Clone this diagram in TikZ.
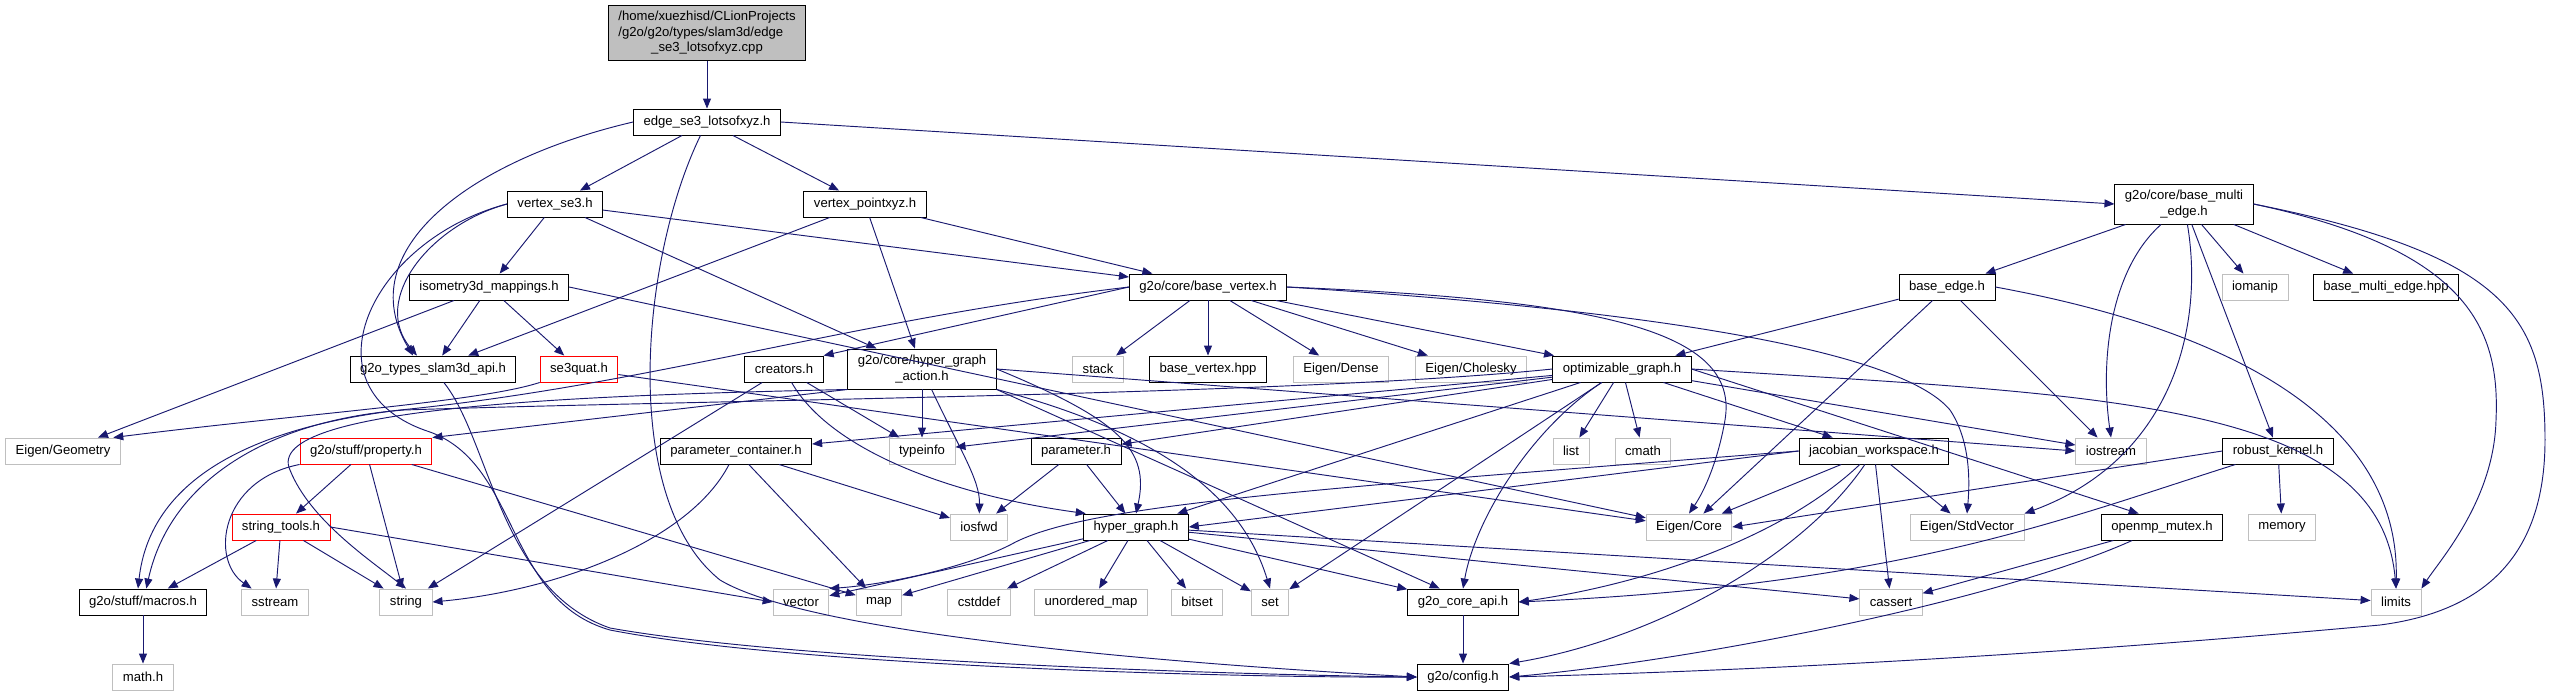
\documentclass[tikz,border=0pt]{standalone}
\usepackage{fontspec}
\setmainfont{Liberation Sans}
\usetikzlibrary{arrows.meta}
\definecolor{EdgeBlue}{RGB}{25,25,112}
\definecolor{SysGray}{RGB}{191,191,191}
\definecolor{RootFill}{RGB}{191,191,191}
\tikzset{
  file/.style={rectangle,draw,line width=0.8pt,fill=white,inner xsep=0.3cm,inner ysep=0.05cm,minimum height=0.78cm,align=center,font=\fontsize{11.2}{13.4}\selectfont},
  hdr/.style={file,draw=black},
  syshdr/.style={file,draw=SysGray},
  trunc/.style={file,draw=red},
  srcfile/.style={file,draw=black,fill=RootFill,minimum height=1.65cm},
  twoline/.style={minimum height=1.2cm},
  dep/.style={-{Triangle[length=0.3cm,width=0.24cm]},draw=EdgeBlue,line width=0.8pt}
}

\begin{document}
\begin{tikzpicture}[x=0.03cm,y=-0.03cm]
\fill[white] (0,0) rectangle (2553,693);
\useasboundingbox (0,0) rectangle (2553,693);
% rows from top to bottom
\node[srcfile] (root) at (707,33) {\begin{tabular}{@{}l@{}}/home/xuezhisd/CLionProjects\\/g2o/g2o/types/slam3d/edge\\\multicolumn{1}{@{}c@{}}{\_se3\_lotsofxyz.cpp}\end{tabular}};
\node[hdr] (edgeh) at (707,122) {edge\_se3\_lotsofxyz.h};
\node[hdr] (vse3) at (555,204) {vertex\_se3.h};
\node[hdr] (vpxyz) at (865,204) {vertex\_pointxyz.h};
\node[hdr,twoline] (bme) at (2184,204) {g2o/core/base\_multi\\\_edge.h};
\node[hdr] (iso) at (489,287) {isometry3d\_mappings.h};
\node[hdr] (bv) at (1208,287) {g2o/core/base\_vertex.h};
\node[hdr] (be) at (1947,287) {base\_edge.h};
\node[syshdr] (iomanip) at (2255,287) {iomanip};
\node[hdr] (bmehpp) at (2386,287) {base\_multi\_edge.hpp};
\node[hdr] (api3d) at (433,369) {g2o\_types\_slam3d\_api.h};
\node[trunc] (se3quat) at (579,369) {se3quat.h};
\node[hdr] (creators) at (784,369) {creators.h};
\node[hdr,twoline] (hga) at (922,369) {g2o/core/hyper\_graph\\\_action.h};
\node[syshdr] (stack) at (1098,369) {stack};
\node[hdr] (bvhpp) at (1208,369) {base\_vertex.hpp};
\node[syshdr] (dense) at (1341,369) {Eigen/Dense};
\node[syshdr] (chol) at (1471,369) {Eigen/Cholesky};
\node[hdr] (og) at (1622,369) {optimizable\_graph.h};
\node[syshdr] (geom) at (63,451) {Eigen/Geometry};
\node[trunc] (prop) at (366,451) {g2o/stuff/property.h};
\node[hdr] (pcont) at (736,451) {parameter\_container.h};
\node[syshdr] (typeinfo) at (922,451) {typeinfo};
\node[hdr] (param) at (1076,451) {parameter.h};
\node[syshdr] (list) at (1571,451) {list};
\node[syshdr] (cmath) at (1643,451) {cmath};
\node[hdr] (jac) at (1874,451) {jacobian\_workspace.h};
\node[syshdr] (iostream) at (2111,451) {iostream};
\node[hdr] (rk) at (2278,451) {robust\_kernel.h};
\node[trunc] (strtools) at (281,527) {string\_tools.h};
\node[syshdr] (iosfwd) at (979,527) {iosfwd};
\node[hdr] (hg) at (1136,527) {hyper\_graph.h};
\node[syshdr] (core) at (1689,527) {Eigen/Core};
\node[syshdr] (stdvec) at (1967,527) {Eigen/StdVector};
\node[hdr] (omp) at (2162,527) {openmp\_mutex.h};
\node[syshdr] (memory) at (2282,527) {memory};
\node[hdr] (macros) at (143,602) {g2o/stuff/macros.h};
\node[syshdr] (sstream) at (275,602) {sstream};
\node[syshdr] (string) at (406,602) {string};
\node[syshdr] (vector) at (801,602) {vector};
\node[syshdr] (map) at (879,602) {map};
\node[syshdr] (cstddef) at (979,602) {cstddef};
\node[syshdr] (umap) at (1091,602) {unordered\_map};
\node[syshdr] (bitset) at (1197,602) {bitset};
\node[syshdr] (set) at (1270,602) {set};
\node[hdr] (coreapi) at (1463,602) {g2o\_core\_api.h};
\node[syshdr] (cassert) at (1891,602) {cassert};
\node[syshdr] (limits) at (2396,602) {limits};
\node[syshdr] (math) at (143,677) {math.h};
\node[hdr] (config) at (1463,677) {g2o/config.h};

% includes
\draw[dep] (root) -- (edgeh);
\draw[dep] (edgeh) -- (vse3);
\draw[dep] (edgeh) -- (vpxyz);
\draw[dep] (edgeh.east) -- (bme.west);
\draw[dep] (edgeh.west) .. controls (470,160) and (350,250) .. (api3d.146);
\draw[dep] (edgeh) .. controls (640,260) and (620,500) .. (720,580) .. controls (820,640) and (1250,668) .. (config.west);

\draw[dep] (vse3) -- (iso);
\draw[dep] (vse3) -- (bv);
\draw[dep] (vse3) -- (hga);
\draw[dep] (vse3.west) .. controls (430,225) and (370,300) .. (api3d.140);
\draw[dep] (vse3.west) .. controls (370,240) and (300,390) .. (430,432) .. controls (520,465) and (505,600) .. (610,630) .. controls (800,667) and (1250,678) .. (config.west);

\draw[dep] (vpxyz) -- (api3d);
\draw[dep] (vpxyz) -- (hga);
\draw[dep] (vpxyz) -- (bv);

\draw[dep] (bme) -- (be);
\draw[dep] (bme) -- (iomanip);
\draw[dep] (bme) -- (bmehpp);
\draw[dep] (bme) -- (rk);
\draw[dep] (bme) .. controls (2110,270) and (2100,360) .. (iostream.north);
\draw[dep] (bme) .. controls (2205,330) and (2170,460) .. (stdvec.north east);
\draw[dep] (bme.east) .. controls (2470,250) and (2500,330) .. (2496,420) .. controls (2494,500) and (2440,560) .. (limits.north east);
\draw[dep] (bme.east) .. controls (2510,255) and (2545,320) .. (2545,440) .. controls (2545,560) and (2480,612) .. (2380,625) .. controls (2000,660) and (1700,672) .. (config.east);

\draw[dep] (iso) -- (api3d);
\draw[dep] (iso) -- (se3quat);
\draw[dep] (iso) -- (geom);
\draw[dep] (iso.east) -- (core);

\draw[dep] (se3quat) -- (core);
\draw[dep] (se3quat.south west) .. controls (480,402) and (300,414) .. (geom.15);

\draw[dep] (bv) -- (bvhpp);
\draw[dep] (bv) -- (stack);
\draw[dep] (bv) -- (dense);
\draw[dep] (bv) -- (chol);
\draw[dep] (bv) -- (og);
\draw[dep] (bv.west) -- (creators.north east);
\draw[dep] (bv.west) .. controls (850,320) and (650,385) .. (400,410) .. controls (250,428) and (150,480) .. ([xshift=-0.15cm]macros.north);
\draw[dep] (bv.east) .. controls (1600,300) and (1740,330) .. (1725,420) .. controls (1718,460) and (1705,490) .. (core.north);
\draw[dep] (bv.east) .. controls (1650,310) and (1900,350) .. (1950,410) .. controls (1970,440) and (1970,480) .. (stdvec.north);

\draw[dep] (be) -- (og);
\draw[dep] (be) -- (core);
\draw[dep] (be) -- (iostream);
\draw[dep] (be.east) .. controls (2230,330) and (2400,420) .. (limits.north);

\draw[dep] (api3d) .. controls (490,440) and (500,590) .. (610,628) .. controls (800,662) and (1250,675) .. (config.west);

\draw[dep] (creators) -- (typeinfo);
\draw[dep] (creators) -- (string);
\draw[dep] (creators) .. controls (830,450) and (950,495) .. (hg.165);

\draw[dep] (hga) -- (typeinfo);
\draw[dep] (hga) .. controls (960,450) and (980,480) .. (iosfwd);
\draw[dep] (hga.south west) -- (prop.north east);
\draw[dep] (hga.south west) .. controls (600,395) and (260,405) .. (290,470) .. controls (310,520) and (370,560) .. (string.north);
\draw[dep] (hga.east) .. controls (1120,420) and (1150,450) .. (hg.north);
\draw[dep] (hga.south east) .. controls (1150,430) and (1240,490) .. (set.north);
\draw[dep] (hga.south east) -- (coreapi.150);
\draw[dep] (hga.east) -- (iostream.west);

\draw[dep] (og) -- (list);
\draw[dep] (og) -- (cmath);
\draw[dep] (og) -- (jac);
\draw[dep] (og) -- (typeinfo);
\draw[dep] (og) -- (pcont);
\draw[dep] (og) -- (param);
\draw[dep] (og) -- (hg);
\draw[dep] (og) -- (set);
\draw[dep] (og) .. controls (1530,430) and (1475,520) .. (coreapi.north);
\draw[dep] (og.west) .. controls (1300,395) and (700,400) .. (404,410) .. controls (270,420) and (170,480) .. ([xshift=0.1cm]macros.north);
\draw[dep] (og) -- (iostream);
\draw[dep] (og.east) -- (omp.150);
\draw[dep] (og.east) .. controls (2100,395) and (2380,400) .. (limits.north);

\draw[dep] (prop) -- (strtools);
\draw[dep] (prop) -- (string);
\draw[dep] (prop.south west) .. controls (220,480) and (210,560) .. (sstream.150);
\draw[dep] (prop) -- (map);

\draw[dep] (pcont) -- (iosfwd);
\draw[dep] (pcont) -- (map);
\draw[dep] (pcont) .. controls (690,540) and (560,590) .. (string.east);

\draw[dep] (param) -- (iosfwd);
\draw[dep] (param) -- (hg);

\draw[dep] (jac) -- (core);
\draw[dep] (jac) -- (stdvec);
\draw[dep] (jac) -- (cassert);
\draw[dep] (jac) .. controls (1780,540) and (1640,585) .. (coreapi.east);
\draw[dep] (jac) .. controls (1800,560) and (1650,640) .. (config.north east);
\draw[dep] (jac.west) -- (hg.east);
\draw[dep] (jac.west) .. controls (1300,490) and (1080,505) .. (1010,545) .. controls (960,570) and (880,585) .. (vector.north east);

\draw[dep] (rk) -- (memory);
\draw[dep] (rk.west) -- (core.east);
\draw[dep] (rk) .. controls (2060,520) and (1900,585) .. (coreapi.east);

\draw[dep] (strtools) -- (macros);
\draw[dep] (strtools) -- (sstream);
\draw[dep] (strtools) -- (string);
\draw[dep] (strtools.east) -- (vector.west);

\draw[dep] (hg) -- (vector);
\draw[dep] (hg) -- (map);
\draw[dep] (hg) -- (cstddef);
\draw[dep] (hg) -- (umap);
\draw[dep] (hg) -- (bitset);
\draw[dep] (hg) -- (set);
\draw[dep] (hg) -- (coreapi);
\draw[dep] (hg) -- (cassert);
\draw[dep] (hg) -- (limits);

\draw[dep] (coreapi) -- (config);
\draw[dep] (omp) -- (cassert);
\draw[dep] (omp) .. controls (2000,600) and (1700,660) .. (config.east);
\draw[dep] (macros) -- (math);
\end{tikzpicture}
\end{document}
